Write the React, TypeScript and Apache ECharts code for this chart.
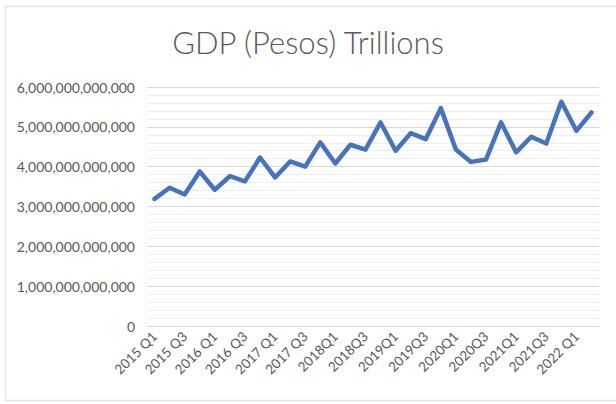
import React, { useEffect, useRef } from "react";
import * as echarts from "echarts";

const categories = [
  "2015 Q1", "2015 Q2", "2015 Q3", "2015 Q4",
  "2016 Q1", "2016 Q2", "2016 Q3", "2016 Q4",
  "2017 Q1", "2017 Q2", "2017 Q3", "2017 Q4",
  "2018Q1", "2018Q2", "2018Q3", "2018Q4",
  "2019Q1", "2019Q2", "2019Q3", "2019Q4",
  "2020Q1", "2020Q2", "2020Q3", "2020Q4",
  "2021Q1", "2021Q2", "2021Q3", "2021Q4",
  "2022 Q1", "2022 Q2",
];

const gdpTrillions = [
  3.19, 3.47, 3.3, 3.88, 3.42, 3.76, 3.63, 4.23,
  3.73, 4.13, 4.0, 4.61, 4.08, 4.55, 4.43, 5.11,
  4.4, 4.84, 4.69, 5.47, 4.43, 4.12, 4.18, 5.11,
  4.36, 4.75, 4.58, 5.63, 4.9, 5.36,
];

const gdpValues = gdpTrillions.map((v) => v * 1e12);

const titleText = "GDP (Pesos) Trillions";

export default function App() {
  const ref = useRef<HTMLDivElement>(null);
  useEffect(() => {
    if (!ref.current) return;
    const chart = echarts.init(ref.current, undefined, { renderer: "svg" });
    chart.setOption({
      animation: false,
      backgroundColor: "#ffffff",
      title: {
        text: titleText,
        left: "center",
        top: 21,
        textStyle: {
          fontFamily: "Lato",
          fontWeight: 300,
          fontSize: 31,
          color: "#595959",
        },
      },
      graphic: [
        {
          type: "rect",
          shape: { x: 5.5, y: 6.5, width: 640, height: 394 },
          style: { fill: "none", stroke: "#e6e6e6", lineWidth: 1.5 },
          silent: true,
        },
      ],
      grid: { left: 147, right: 17, top: 87, bottom: 78 },
      xAxis: {
        type: "category",
        data: categories,
        boundaryGap: true,
        axisLine: { show: true, lineStyle: { color: "#d9d9d9", width: 1 } },
        axisTick: { show: false },
        axisLabel: {
          interval: 1,
          rotate: 45,
          color: "#595959",
          fontFamily: "Lato",
          fontSize: 13.5,
          margin: 8,
        },
      },
      yAxis: {
        type: "value",
        min: 0,
        max: 6e12,
        interval: 1e12,
        axisLine: { show: false },
        axisTick: { show: false },
        axisLabel: {
          color: "#595959",
          fontFamily: "Lato",
          fontSize: 14,
          margin: 12,
          formatter: (v: number) => v.toLocaleString("en-US"),
        },
        splitLine: { show: true, lineStyle: { color: "#d9d9d9", width: 1 } },
        minorTick: { show: false, splitNumber: 5 },
        minorSplitLine: { show: true, lineStyle: { color: "#eeeeee", width: 1 } },
      },
      series: [
        {
          type: "line",
          data: gdpValues,
          showSymbol: false,
          symbol: "none",
          lineStyle: { color: "#4472C4", width: 4.5, join: "round", cap: "round" },
        },
      ],
    });
    return () => chart.dispose();
  }, []);
  return (
    <div
      ref={ref}
      style={{ position: "absolute", left: 0, top: 0, width: 616, height: 404 }}
    />
  );
}
